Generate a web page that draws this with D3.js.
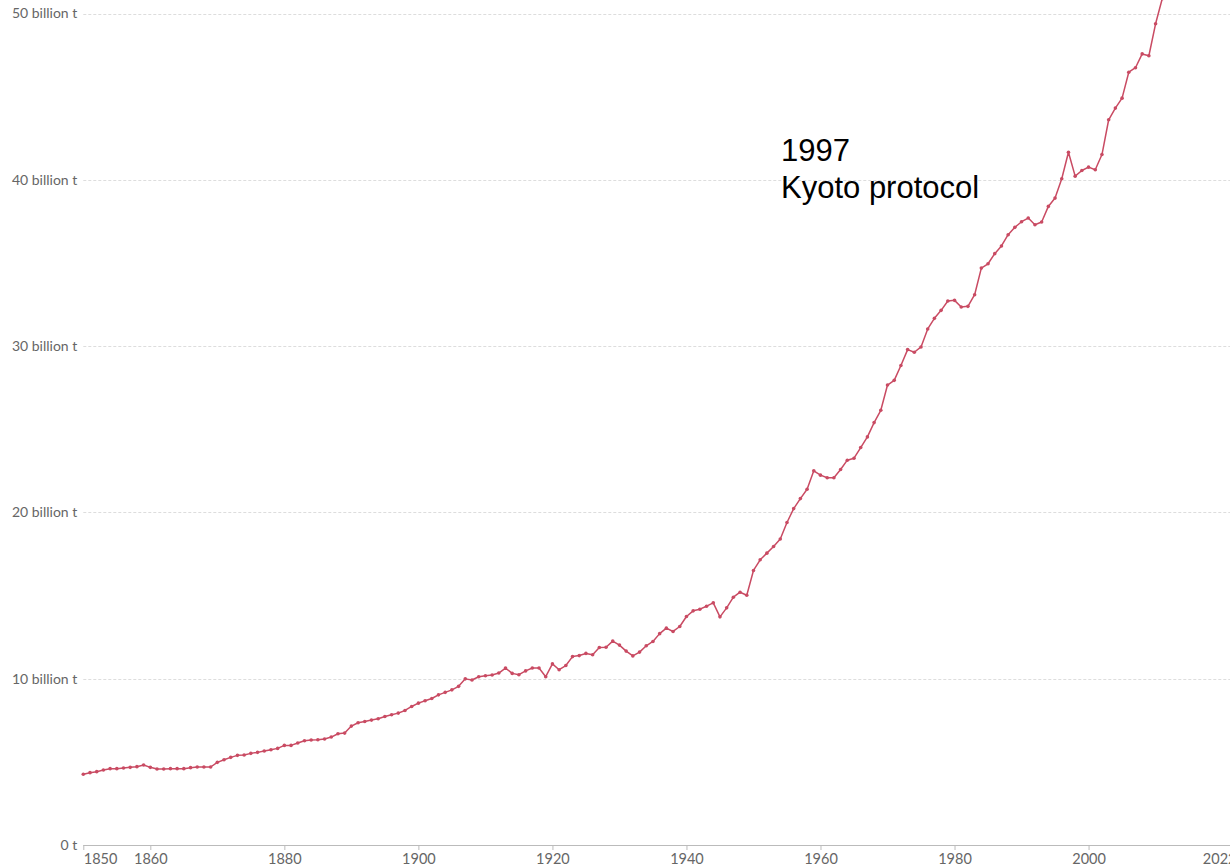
<!DOCTYPE html>
<html>
<head>
<meta charset="utf-8">
<script src="https://cdn.jsdelivr.net/npm/d3@7"></script>
<style>
  html, body { margin: 0; padding: 0; background: #fff; overflow: hidden; }
  svg { display: block; }
</style>
</head>
<body>
<svg id="chart" width="1230" height="868"></svg>
<script>
// Years 1850..2011 (annual)
const startYear = 1850;
const emissions = [
  4.25, 4.35, 4.41, 4.51, 4.59, 4.59, 4.63, 4.67, 4.71, 4.81, // 1850-1859
  4.67, 4.57, 4.57, 4.59, 4.59, 4.59, 4.65, 4.69, 4.69, 4.69, // 1860-1869
  4.97, 5.13, 5.27, 5.39, 5.41, 5.51, 5.57, 5.65, 5.73, 5.81, // 1870-1879
  5.99, 5.99, 6.13, 6.27, 6.31, 6.33, 6.37, 6.49, 6.69, 6.73, // 1880-1889
  7.15, 7.35, 7.43, 7.51, 7.59, 7.73, 7.83, 7.93, 8.09, 8.33, // 1890-1899
  8.53, 8.67, 8.81, 9.03, 9.18, 9.33, 9.54, 9.99, 9.92, 10.12, // 1900-1909
  10.18, 10.22, 10.34, 10.64, 10.32, 10.24, 10.47, 10.64, 10.64, 10.12, // 1910-1919
  10.89, 10.54, 10.79, 11.33, 11.39, 11.52, 11.44, 11.88, 11.89, 12.26, // 1920-1929
  12.02, 11.66, 11.37, 11.6, 11.98, 12.24, 12.71, 13.04, 12.84, 13.14, // 1930-1939
  13.74, 14.08, 14.18, 14.36, 14.56, 13.72, 14.26, 14.9, 15.2, 15.02, // 1940-1949
  16.51, 17.15, 17.55, 17.95, 18.4, 19.39, 20.23, 20.83, 21.39, 22.5, // 1950-1959
  22.24, 22.08, 22.08, 22.58, 23.14, 23.26, 23.9, 24.54, 25.4, 26.14, // 1960-1969
  27.66, 27.94, 28.83, 29.79, 29.63, 29.95, 31.03, 31.67, 32.15, 32.71, // 1970-1979
  32.75, 32.35, 32.39, 33.09, 34.69, 34.95, 35.56, 36.02, 36.7, 37.14, // 1980-1989
  37.48, 37.7, 37.3, 37.46, 38.4, 38.9, 40.06, 41.66, 40.22, 40.56, // 1990-1999
  40.76, 40.6, 41.52, 43.61, 44.31, 44.91, 46.47, 46.74, 47.57, 47.46, // 2000-2009
  49.38, 50.9                                                         // 2010-2011
];
const years = emissions.map((_, i) => startYear + i);
const yTicks = [0, 10, 20, 30, 40, 50];
const yTickLabels = ["0 t", "10 billion t", "20 billion t", "30 billion t", "40 billion t", "50 billion t"];
const xTicks = [1850, 1860, 1880, 1900, 1920, 1940, 1960, 1980, 2000, 2022];
const annotationLines = ["1997", "Kyoto protocol"];

(function () {
  const data = years.map((yr, i) => ({ year: yr, value: emissions[i] }));

  const svg = d3.select("#chart");
  const mLeft = 83.3, mRight = 1236, mTop = 13.5, mBottom = 845;

  const x = d3.scaleLinear().domain([1850, 2022]).range([mLeft, mRight]);
  const y = d3.scaleLinear().domain([0, 50]).range([mBottom, mTop]);

  const labelFont = "Lato, 'Open Sans', sans-serif";

  // gridlines
  svg.append("g").selectAll("line")
    .data(yTicks.filter(d => d > 0))
    .join("line")
    .attr("x1", mLeft)
    .attr("x2", 1240)
    .attr("y1", d => Math.round(y(d)) + 0.5)
    .attr("y2", d => Math.round(y(d)) + 0.5)
    .attr("stroke", "#dddddd")
    .attr("stroke-width", 1)
    .attr("stroke-dasharray", "3,2");

  // y axis labels
  const yAxis = d3.axisLeft(y).tickValues(yTicks).tickSize(0).tickPadding(6)
    .tickFormat((d, i) => yTickLabels[i]);
  const yG = svg.append("g").attr("transform", `translate(${mLeft},0)`).call(yAxis);
  yG.select(".domain").remove();
  yG.selectAll("text")
    .attr("font-family", labelFont)
    .attr("font-size", 14)
    .attr("fill", "#666");

  // x axis
  const xAxis = d3.axisBottom(x).tickValues(xTicks).tickSize(5).tickPadding(4)
    .tickFormat(d3.format("d"));
  const xG = svg.append("g").attr("transform", `translate(0,${mBottom})`).call(xAxis);
  xG.select(".domain").attr("stroke", "#bbb").attr("d", `M${mLeft},0.5H1240`);
  xG.selectAll(".tick line").attr("stroke", "#bbb");
  xG.selectAll(".tick text")
    .attr("font-family", labelFont)
    .attr("font-size", 14.5)
    .attr("fill", "#666")
    .attr("text-anchor", (d, i) => i === 0 ? "start" : (i === xTicks.length - 1 ? "end" : "middle"));

  // line
  const color = "#c94b63";
  const line = d3.line().x(d => x(d.year)).y(d => y(d.value));
  svg.append("path")
    .datum(data)
    .attr("fill", "none")
    .attr("stroke", color)
    .attr("stroke-width", 1.5)
    .attr("stroke-linejoin", "round")
    .attr("d", line);

  svg.append("g").selectAll("circle")
    .data(data)
    .join("circle")
    .attr("cx", d => x(d.year))
    .attr("cy", d => y(d.value))
    .attr("r", 1.8)
    .attr("fill", color);

  // annotation
  const ann = svg.append("text")
    .attr("font-family", "'Liberation Sans', Arial, sans-serif")
    .attr("font-size", 31)
    .attr("fill", "#000");
  ann.selectAll("tspan")
    .data(annotationLines)
    .join("tspan")
    .attr("x", 781)
    .attr("y", (d, i) => 161 + i * 37)
    .text(d => d);
})();
</script>
</body>
</html>
